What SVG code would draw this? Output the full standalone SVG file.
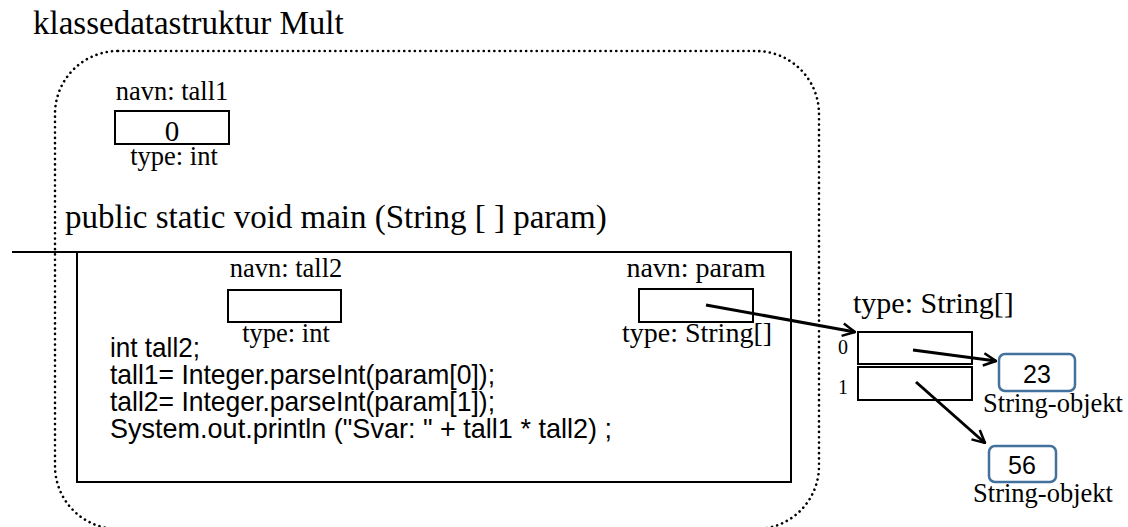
<svg xmlns="http://www.w3.org/2000/svg" width="1128" height="527" viewBox="0 0 1128 527">
<style>
.serif{font-family:"Liberation Serif","Times New Roman",serif;fill:#000}
.sans{font-family:"Liberation Sans",Arial,sans-serif;fill:#000}
.num{font-family:"Liberation Sans",Arial,sans-serif;fill:#000}
.box{fill:#fff;stroke:#000;stroke-width:2}
.obj{fill:#fff;stroke:#41719C;stroke-width:2.5}
.conn{stroke:#000;stroke-width:3;fill:none}
</style>
<defs>
<marker id="ah" viewBox="0 0 12 12" refX="11" refY="6" markerWidth="5" markerHeight="5" markerUnits="strokeWidth" orient="auto">
<polyline points="1,1 11,6 1,11" fill="none" stroke="#000" stroke-width="2"/>
</marker>
</defs>
<rect width="1128" height="527" fill="#fff"/>
<g id="klasse">
<text class="serif" x="33" y="34" font-size="33">klassedatastruktur Mult</text>
<rect x="55" y="51" width="764" height="478" rx="63" ry="63" fill="none" stroke="#000" stroke-width="2.6" stroke-dasharray="0.1 5.2" stroke-linecap="round"/>
</g>
<g id="tall1">
<text class="serif" x="172" y="100" font-size="26.5" text-anchor="middle">navn: tall1</text>
<rect class="box" x="115" y="111" width="114" height="33"/>
<text class="serif" x="172" y="141" font-size="29" text-anchor="middle">0</text>
<text class="serif" x="174" y="165" font-size="26.5" text-anchor="middle">type: int</text>
</g>
<g id="main">
<text class="serif" x="65" y="228" font-size="33">public static void main (String [ ] param)</text>
<line x1="12" y1="252" x2="95" y2="252" stroke="#000" stroke-width="2"/>
<rect class="box" x="77" y="252" width="714" height="230" fill="none"/>
<text class="sans" x="110" y="357" font-size="28" textLength="90" lengthAdjust="spacingAndGlyphs">int tall2;</text>
<text class="sans" x="110" y="384" font-size="28" textLength="385" lengthAdjust="spacingAndGlyphs">tall1= Integer.parseInt(param[0]);</text>
<text class="sans" x="110" y="411" font-size="28" textLength="385" lengthAdjust="spacingAndGlyphs">tall2= Integer.parseInt(param[1]);</text>
<text class="sans" x="110" y="438" font-size="28" textLength="502" lengthAdjust="spacingAndGlyphs">System.out.println ("Svar: " + tall1 * tall2) ;</text>
</g>
<g id="tall2">
<text class="serif" x="286" y="277" font-size="26.5" text-anchor="middle">navn: tall2</text>
<rect class="box" x="228" y="290" width="113" height="32"/>
<text class="serif" x="286" y="342" font-size="26.5" text-anchor="middle">type: int</text>
</g>
<g id="param">
<text class="serif" x="696" y="277" font-size="28" text-anchor="middle">navn: param</text>
<rect class="box" x="639" y="289" width="114" height="33"/>
<text class="serif" x="697" y="342" font-size="28" text-anchor="middle">type: String[]</text>
</g>
<g id="array">
<text class="serif" x="853" y="313" font-size="30">type: String[]</text>
<rect class="box" x="858" y="332" width="114" height="32"/>
<rect class="box" x="858" y="367" width="114" height="33"/>
<text class="serif" x="838" y="354" font-size="20">0</text>
<text class="serif" x="838" y="394" font-size="20">1</text>
</g>
<g id="obj23">
<rect class="obj" x="999" y="354" width="76" height="37" rx="6"/>
<text class="num" x="1037" y="383" font-size="25" text-anchor="middle">23</text>
<text class="serif" x="1053" y="412" font-size="26.5" text-anchor="middle">String-objekt</text>
</g>
<g id="obj56">
<rect class="obj" x="989" y="446" width="67" height="36" rx="6"/>
<text class="num" x="1022" y="474" font-size="25" text-anchor="middle">56</text>
<text class="serif" x="1043" y="502" font-size="26.5" text-anchor="middle">String-objekt</text>
</g>
<g id="connectors">
<line class="conn" x1="706" y1="305" x2="855" y2="332" marker-end="url(#ah)"/>
<line class="conn" x1="913" y1="350" x2="996" y2="361" marker-end="url(#ah)"/>
<line class="conn" x1="916" y1="382" x2="985" y2="443" marker-end="url(#ah)"/>
</g>
</svg>
